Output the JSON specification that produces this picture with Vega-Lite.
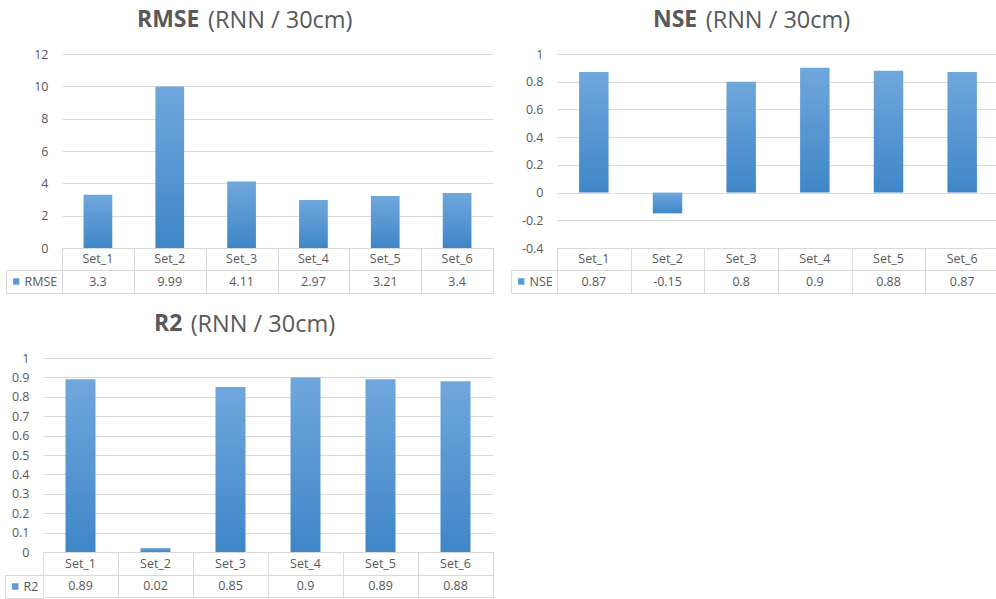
{
  "$schema": "https://vega.github.io/schema/vega-lite/v6.json",
  "padding": {"left": 4, "top": 8, "right": 0, "bottom": 0},
  "background": "white",
  "datasets": {
    "rmse": [
      {"set": "Set_1", "value": 3.3},
      {"set": "Set_2", "value": 9.99},
      {"set": "Set_3", "value": 4.11},
      {"set": "Set_4", "value": 2.97},
      {"set": "Set_5", "value": 3.21},
      {"set": "Set_6", "value": 3.4}
    ],
    "nse": [
      {"set": "Set_1", "value": 0.87},
      {"set": "Set_2", "value": -0.15},
      {"set": "Set_3", "value": 0.8},
      {"set": "Set_4", "value": 0.9},
      {"set": "Set_5", "value": 0.88},
      {"set": "Set_6", "value": 0.87}
    ],
    "r2": [
      {"set": "Set_1", "value": 0.89},
      {"set": "Set_2", "value": 0.02},
      {"set": "Set_3", "value": 0.85},
      {"set": "Set_4", "value": 0.9},
      {"set": "Set_5", "value": 0.89},
      {"set": "Set_6", "value": 0.88}
    ],
    "none": []
  },
  "spacing": 18,
  "resolve": {"scale": {"fill": "independent"}, "legend": {"fill": "independent"}},
  "vconcat": [
    {
      "spacing": -39,
      "resolve": {"scale": {"fill": "independent"}, "legend": {"fill": "independent"}},
      "hconcat": [
        {"width": 1, "height": 1, "data": {"name": "none"}, "mark": "point", "encoding": {}},
        {
          "spacing": 16,
          "resolve": {"scale": {"fill": "independent"}, "legend": {"fill": "independent"}},
          "hconcat": [
            {
              "title": {"text": "RMSE", "subtitle": "\u200b\u00a0\u00a0\u00a0\u00a0\u00a0\u00a0\u00a0\u00a0\u00a0\u00a0\u00a0\u2009(RNN / 30cm)", "dx": 75},
              "spacing": 0,
              "bounds": "flush",
              "resolve": {"scale": {"fill": "independent"}, "legend": {"fill": "independent"}},
              "vconcat": [
                {
                  "width": 431, "height": 194,
                  "data": {"name": "rmse"},
                  "mark": {"type": "bar", "color": {"gradient": "linear", "x1": 0, "y1": 0, "x2": 0, "y2": 1, "stops": [{"offset": 0, "color": "#70a7dd"}, {"offset": 1, "color": "#3f86c7"}]}},
                  "encoding": {
                    "x": {"field": "set", "type": "nominal", "sort": null, "scale": {"paddingInner": 0.6, "paddingOuter": 0.3}, "axis": null},
                    "y": {"field": "value", "type": "quantitative", "scale": {"domain": [0, 12], "nice": false}, "axis": {"values": [0, 2, 4, 6, 8, 10, 12], "grid": true, "labelPadding": 14}}
                  }
                },
                {
                  "width": 431, "height": 22,
                  "data": {"name": "rmse"},
                  "view": {"stroke": "#d9d9d9"},
                  "mark": {"type": "text"},
                  "encoding": {
                    "x": {"field": "set", "type": "nominal", "sort": null, "scale": {"type": "band", "paddingInner": 0, "paddingOuter": 0}, "axis": {"labels": false, "grid": true, "tickBand": "extent"}},
                    "text": {"field": "set", "type": "nominal"}
                  }
                },
                {
                  "width": 431, "height": 23,
                  "data": {"name": "rmse"},
                  "view": {"stroke": "#d9d9d9"},
                  "encoding": {
                    "x": {"field": "set", "type": "nominal", "sort": null, "scale": {"type": "band", "paddingInner": 0, "paddingOuter": 0}, "axis": {"labels": false, "grid": true, "tickBand": "extent"}}
                  },
                  "layer": [
                    {"mark": {"type": "text"}, "encoding": {"text": {"field": "value", "type": "nominal"}}},
                    {"mark": {"type": "point", "shape": "square", "filled": true, "opacity": 0},
                     "encoding": {"fill": {"datum": "RMSE", "scale": {"range": ["#5b9bd5"]}, "legend": {"orient": "left", "offset": 0}}}}
                  ]
                }
              ]
            },
            {
              "title": {"text": "NSE", "subtitle": "\u200b\u00a0\u00a0\u00a0\u00a0\u00a0\u00a0\u00a0\u00a0\u2009(RNN / 30cm)", "dx": 96},
              "spacing": 0,
              "bounds": "flush",
              "resolve": {"scale": {"fill": "independent"}, "legend": {"fill": "independent"}},
              "vconcat": [
                {
                  "width": 442, "height": 194,
                  "data": {"name": "nse"},
                  "mark": {"type": "bar", "color": {"gradient": "linear", "x1": 0, "y1": 0, "x2": 0, "y2": 1, "stops": [{"offset": 0, "color": "#70a7dd"}, {"offset": 1, "color": "#3f86c7"}]}},
                  "encoding": {
                    "x": {"field": "set", "type": "nominal", "sort": null, "scale": {"paddingInner": 0.6, "paddingOuter": 0.3}, "axis": null},
                    "y": {"field": "value", "type": "quantitative", "scale": {"domain": [-0.4, 1], "nice": false}, "axis": {"values": [-0.4, -0.2, 0, 0.2, 0.4, 0.6, 0.8, 1], "labelExpr": "'' + datum.value", "grid": true, "labelPadding": 14}}
                  }
                },
                {
                  "width": 442, "height": 22,
                  "data": {"name": "nse"},
                  "view": {"stroke": "#d9d9d9"},
                  "mark": {"type": "text"},
                  "encoding": {
                    "x": {"field": "set", "type": "nominal", "sort": null, "scale": {"type": "band", "paddingInner": 0, "paddingOuter": 0}, "axis": {"labels": false, "grid": true, "tickBand": "extent"}},
                    "text": {"field": "set", "type": "nominal"}
                  }
                },
                {
                  "width": 442, "height": 23,
                  "data": {"name": "nse"},
                  "view": {"stroke": "#d9d9d9"},
                  "encoding": {
                    "x": {"field": "set", "type": "nominal", "sort": null, "scale": {"type": "band", "paddingInner": 0, "paddingOuter": 0}, "axis": {"labels": false, "grid": true, "tickBand": "extent"}}
                  },
                  "layer": [
                    {"mark": {"type": "text"}, "encoding": {"text": {"field": "value", "type": "nominal"}}},
                    {"mark": {"type": "point", "shape": "square", "filled": true, "opacity": 0},
                     "encoding": {"fill": {"datum": "NSE", "scale": {"range": ["#5b9bd5"]}, "legend": {"orient": "left", "offset": 0}}}}
                  ]
                }
              ]
            }
          ]
        }
      ]
    },
    {
      "title": {"text": "R2", "subtitle": "\u200b\u00a0\u00a0\u00a0\u00a0\u00a0\u00a0(RNN / 30cm)", "dx": 111},
      "spacing": 0,
      "bounds": "flush",
      "resolve": {"scale": {"fill": "independent"}, "legend": {"fill": "independent"}},
      "vconcat": [
        {
          "width": 450, "height": 194,
          "data": {"name": "r2"},
          "mark": {"type": "bar", "color": {"gradient": "linear", "x1": 0, "y1": 0, "x2": 0, "y2": 1, "stops": [{"offset": 0, "color": "#70a7dd"}, {"offset": 1, "color": "#3f86c7"}]}},
          "encoding": {
            "x": {"field": "set", "type": "nominal", "sort": null, "scale": {"paddingInner": 0.6, "paddingOuter": 0.3}, "axis": null},
            "y": {"field": "value", "type": "quantitative", "scale": {"domain": [0, 1], "nice": false}, "axis": {"values": [0, 0.1, 0.2, 0.3, 0.4, 0.5, 0.6, 0.7, 0.8, 0.9, 1], "labelExpr": "'' + datum.value", "grid": true, "labelPadding": 14}}
          }
        },
        {
          "width": 450, "height": 23,
          "data": {"name": "r2"},
          "view": {"stroke": "#d9d9d9"},
          "mark": {"type": "text"},
          "encoding": {
            "x": {"field": "set", "type": "nominal", "sort": null, "scale": {"type": "band", "paddingInner": 0, "paddingOuter": 0}, "axis": {"labels": false, "grid": true, "tickBand": "extent"}},
            "text": {"field": "set", "type": "nominal"}
          }
        },
        {
          "width": 450, "height": 22,
          "data": {"name": "r2"},
          "view": {"stroke": "#d9d9d9"},
          "encoding": {
            "x": {"field": "set", "type": "nominal", "sort": null, "scale": {"type": "band", "paddingInner": 0, "paddingOuter": 0}, "axis": {"labels": false, "grid": true, "tickBand": "extent"}}
          },
          "layer": [
            {"mark": {"type": "text"}, "encoding": {"text": {"field": "value", "type": "nominal"}}},
            {"mark": {"type": "point", "shape": "square", "filled": true, "opacity": 0},
             "encoding": {"fill": {"datum": "R2", "scale": {"range": ["#5b9bd5"]}, "legend": {"orient": "left", "offset": 0}}}}
          ]
        }
      ]
    }
  ],
  "config": {
    "font": "Open Sans",
    "view": {"stroke": null},
    "axis": {"labelFont": "Open Sans", "labelColor": "#595959", "labelFontSize": 12.5, "gridColor": "#d9d9d9", "gridWidth": 1, "domain": false, "ticks": false, "title": null},
    "text": {"font": "Open Sans", "fontSize": 12.5, "color": "#595959"},
    "legend": {"title": null, "symbolType": "square", "symbolSize": 40, "symbolOpacity": 1, "symbolStrokeWidth": 0, "symbolFillColor": "#5b9bd5", "labelFont": "Open Sans", "labelFontSize": 12.5, "labelColor": "#595959", "labelOffset": 2, "padding": 4, "clipHeight": 15, "strokeColor": "#d9d9d9"},
    "title": {"anchor": "start", "frame": "group", "font": "Open Sans", "fontSize": 23, "fontWeight": "bold", "color": "#595959", "subtitleFont": "Open Sans", "subtitleFontSize": 23.5, "subtitleFontWeight": "normal", "subtitleColor": "#595959", "subtitlePadding": -23, "offset": 16}
  }
}
